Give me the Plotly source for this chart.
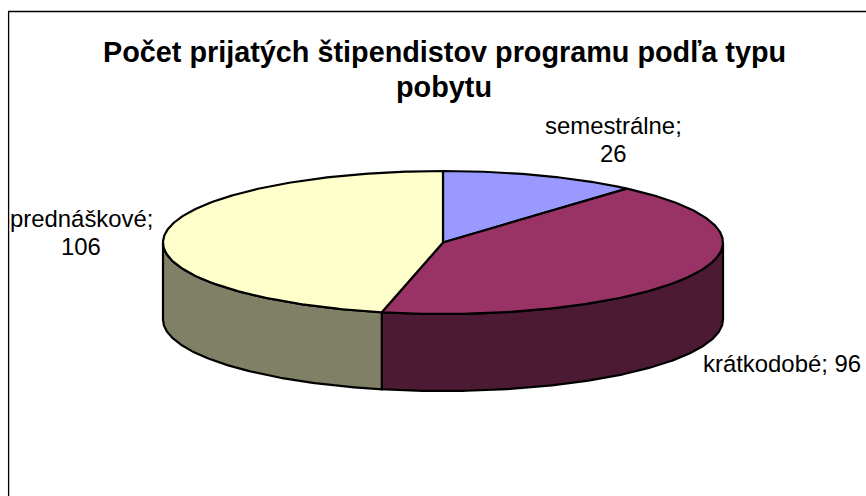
import numpy as np
import plotly.graph_objects as go

categories = ["semestrálne", "krátkodobé", "prednáškové"]
values = [26, 96, 106]
top_colors = ["#9999FF", "#993366", "#FFFFCC"]
wall_colors = ["#4D4D80", "#4D1A33", "#808066"]
title_lines = ["Počet prijatých štipendistov programu podľa typu", "pobytu"]

W, H = 866, 496
CX, CY, RX, RY, DEPTH = 443, 242.5, 280, 71.5, 77
FONT = "Liberation Sans, Arial, sans-serif"
LINE = dict(color="black", width=2.2)

fracs = np.cumsum([0] + values) / sum(values)
edges = fracs * 2 * np.pi


def px(t):
    return CX + RX * np.sin(t)


def py(t, drop=0):
    return CY - RY * np.cos(t) + drop


fig = go.Figure()

# Side walls: visible part of each slice (front half, angle pi/2..3pi/2)
for i in range(len(values)):
    a = max(edges[i], np.pi / 2)
    b = min(edges[i + 1], 3 * np.pi / 2)
    if a >= b:
        continue
    t = np.linspace(a, b, 160)
    x = np.r_[px(t), px(t[::-1]), px(t[0])]
    y = np.r_[py(t), py(t[::-1], DEPTH), py(t[0])]
    fig.add_trace(go.Scatter(x=x, y=y, mode="lines", fill="toself",
                             fillcolor=wall_colors[i], line=LINE,
                             hoverinfo="skip", showlegend=False))

# Top faces
for i in range(len(values)):
    t = np.linspace(edges[i], edges[i + 1], 240)
    x = np.r_[CX, px(t), CX]
    y = np.r_[CY, py(t), CY]
    fig.add_trace(go.Scatter(x=x, y=y, mode="lines", fill="toself",
                             fillcolor=top_colors[i], line=LINE,
                             hoverinfo="skip", showlegend=False))

# Chart frame (top and left edges only; the picture is cropped on the others)
fig.add_trace(go.Scatter(x=[8.6, 8.6, W], y=[H, 11.5, 11.5], mode="lines",
                         line=dict(color="black", width=1.3),
                         hoverinfo="skip", showlegend=False))


def text(x, y, s, size, **font):
    fig.add_annotation(x=x, y=y, text=s, showarrow=False, xanchor="center",
                       yanchor="middle", align="center",
                       font=dict(family=FONT, size=size, color="black", **font))


LABEL = 23.9
text(613, 125, f"{categories[0]};", LABEL)
text(613, 153, f"{values[0]}", LABEL)
text(782, 363, f"{categories[1]}; {values[1]}", LABEL)
text(81, 218, f"{categories[2]};", LABEL)
text(81, 246, f"{values[2]}", LABEL)

text(444, 52, title_lines[0], 28.8, weight="bold")
text(444, 87, title_lines[1], 28.8, weight="bold")

fig.update_layout(
    width=W, height=H, autosize=False,
    margin=dict(l=0, r=0, t=0, b=0),
    paper_bgcolor="white", plot_bgcolor="white",
    xaxis=dict(range=[0, W], visible=False, fixedrange=True),
    yaxis=dict(range=[H, 0], visible=False, fixedrange=True),
)
fig.write_html("out.html", config={"displayModeBar": False},
               default_width=f"{W}px", default_height=f"{H}px",
               post_script="document.body.style.margin='0';"
                           "document.documentElement.style.overflow='hidden';")
